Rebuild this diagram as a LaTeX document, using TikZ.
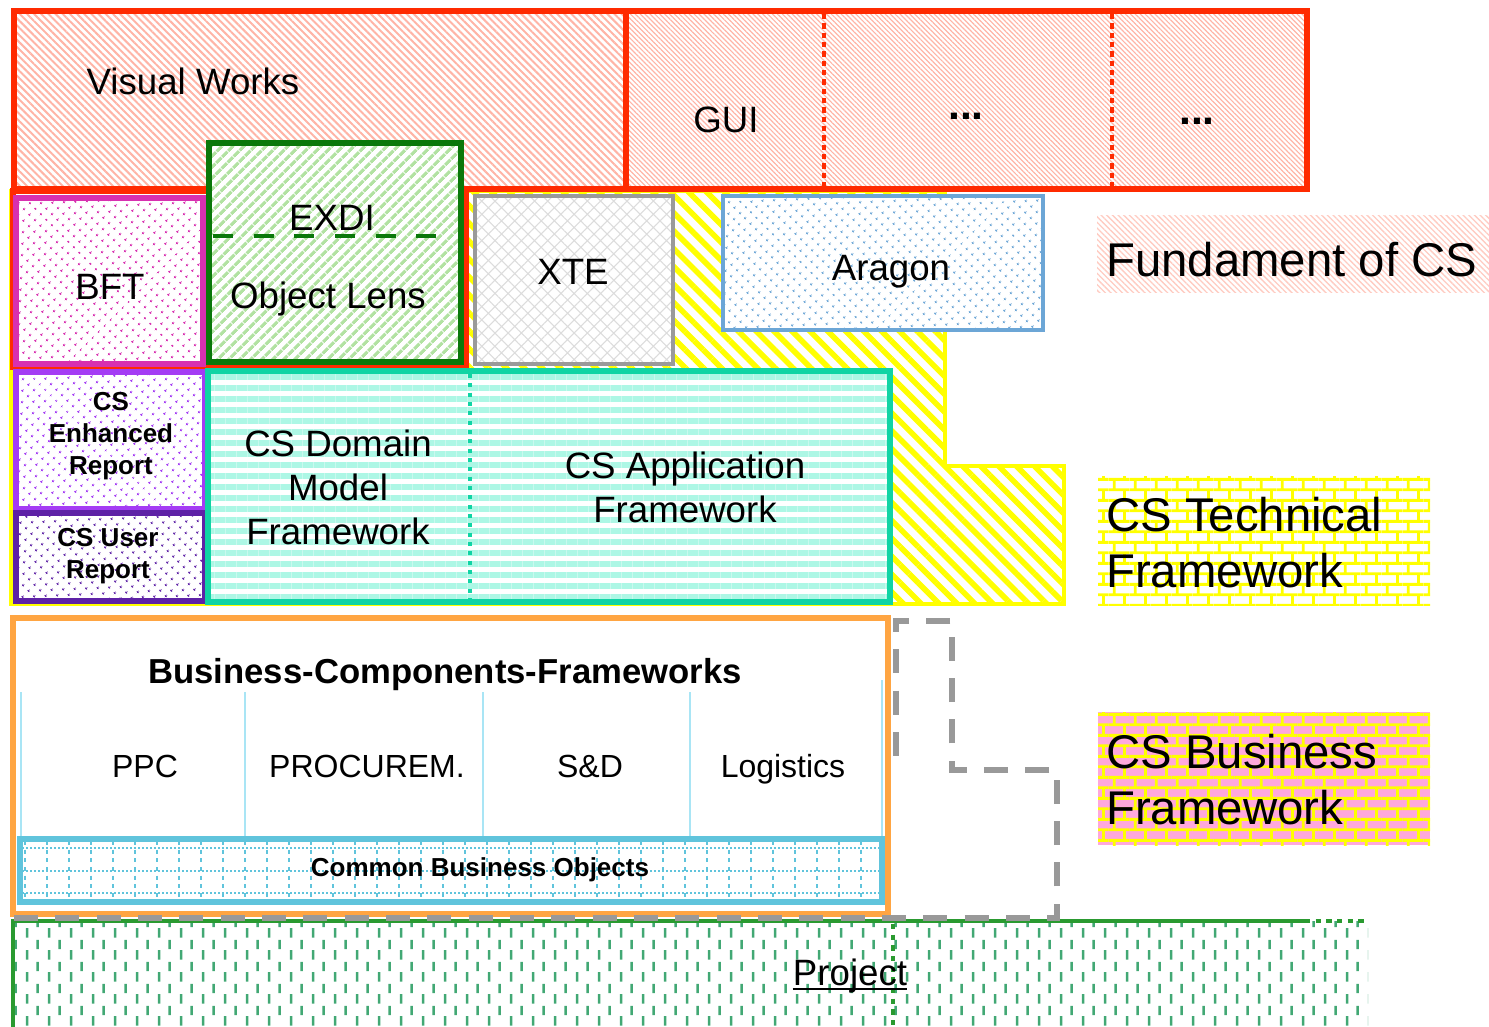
\documentclass[tikz,border=0pt]{standalone}
\usepackage{fontspec}
\setmainfont{Liberation Sans}
\usetikzlibrary{patterns,patterns.meta}

\definecolor{vwred}{HTML}{FF2A00}
\definecolor{vwhatch}{HTML}{FFB4A6}
\definecolor{bftpink}{HTML}{D830B0}
\definecolor{exdigreen}{HTML}{0A780A}
\definecolor{lensgreen}{HTML}{B2E2A2}
\definecolor{xtegray}{HTML}{9A9A9A}
\definecolor{xtehatch}{HTML}{DCDCDC}
\definecolor{aragonblue}{HTML}{6CA6D6}
\definecolor{techyellow}{HTML}{FFFF00}
\definecolor{enhpurple}{HTML}{A43CF4}
\definecolor{userpurple}{HTML}{5E22A6}
\definecolor{domteal}{HTML}{10D4A4}
\definecolor{domstripe}{HTML}{ADF7E5}
\definecolor{bcforange}{HTML}{FFA542}
\definecolor{bcfblue}{HTML}{A9E5F5}
\definecolor{cboblue}{HTML}{60C4DC}
\definecolor{projgreen}{HTML}{2A9A30}
\definecolor{projdash}{HTML}{42A874}
\definecolor{bizpink}{HTML}{FFA8DC}
\definecolor{guidegray}{HTML}{999999}

% brick wall tile for the legend
\pgfdeclarepatternformonly{legendbricks}{\pgfqpoint{0pt}{0pt}}{\pgfqpoint{16pt}{16pt}}{\pgfqpoint{16pt}{16pt}}{%
  \pgfsetlinewidth{2.2pt}
  \pgfpathmoveto{\pgfqpoint{0pt}{4pt}}\pgfpathlineto{\pgfqpoint{16pt}{4pt}}
  \pgfpathmoveto{\pgfqpoint{0pt}{12pt}}\pgfpathlineto{\pgfqpoint{16pt}{12pt}}
  \pgfpathmoveto{\pgfqpoint{4pt}{4pt}}\pgfpathlineto{\pgfqpoint{4pt}{12pt}}
  \pgfpathmoveto{\pgfqpoint{12pt}{12pt}}\pgfpathlineto{\pgfqpoint{12pt}{16pt}}
  \pgfpathmoveto{\pgfqpoint{12pt}{0pt}}\pgfpathlineto{\pgfqpoint{12pt}{4pt}}
  \pgfusepath{stroke}}

% short vertical dashes for the project layer
\pgfdeclarepatternformonly{projectdashes}{\pgfqpoint{0pt}{0pt}}{\pgfqpoint{16.5pt}{16.5pt}}{\pgfqpoint{16.5pt}{16.5pt}}{%
  \pgfsetlinewidth{1.9pt}
  \pgfpathmoveto{\pgfqpoint{4pt}{1pt}}\pgfpathlineto{\pgfqpoint{4pt}{8.5pt}}
  \pgfpathmoveto{\pgfqpoint{12.25pt}{9.25pt}}\pgfpathlineto{\pgfqpoint{12.25pt}{16.5pt}}
  \pgfusepath{stroke}}

\begin{document}
\begin{tikzpicture}[
    x=0.75pt, y=-0.75pt,
    frame/.style={line width=4pt},
    lbl/.style={font=\fontsize{27.5pt}{33pt}\selectfont, align=center, inner sep=0pt},
    small/.style={font=\bfseries\fontsize{19.5pt}{24pt}\selectfont, align=center, inner sep=0pt},
    part/.style={font=\fontsize{24pt}{28pt}\selectfont, inner sep=0pt, anchor=base},
    legend/.style={font=\fontsize{35.5pt}{42pt}\selectfont, align=left, anchor=west, inner sep=0pt},
    dotfill/.style={preaction={fill=white}, pattern={Dots[distance=6.5pt,radius=1.1pt,angle=45]}, pattern color=#1}
]
\useasboundingbox (0,0) rectangle (1489,1026);

% Technical framework (yellow L-shape behind)
\draw[line width=3.5pt, draw=techyellow, pattern={Lines[angle=-45,distance=9.5pt,line width=4.2pt]}, pattern color=techyellow]
  (11,191) -- (945,191) -- (945,466) -- (1064,466) -- (1064,604) -- (11,604) -- cycle;

% Visual Works and GUI
\draw[frame, draw=vwred, pattern={Lines[angle=-45,distance=3.8pt,line width=1.5pt]}, pattern color=vwhatch] (14,11) rectangle (626,189);
\node[lbl, anchor=base] (visual) at (193,94) {Visual Works};
\draw[frame, draw=vwred, pattern={Lines[angle=-45,distance=2.6pt,line width=0.9pt]}, pattern color=vwhatch] (626,11) rectangle (1307,189);
\draw[vwred, line width=3pt, dash pattern=on 4pt off 3pt] (824,14) -- (824,186);
\draw[vwred, line width=3pt, dash pattern=on 4pt off 3pt] (1112,14) -- (1112,186);
\node[lbl, anchor=base] (gui) at (726,132) {GUI};
\node[lbl, anchor=base] (more1) at (966,119) {\fontsize{32pt}{36pt}\selectfont\textbf{...}};
\node[lbl, anchor=base] (more2) at (1197,124) {\fontsize{32pt}{36pt}\selectfont\textbf{...}};

% frame under Visual Works
\draw[frame, draw=vwred, fill=white] (13,191) rectangle (466,367);

% BFT
\draw[frame, draw=bftpink, dotfill=bftpink] (16,198) rectangle (203,364);
\node[lbl, anchor=base] (bft) at (110,299) {BFT};

% Object Lens with EXDI
\draw[frame, draw=exdigreen, preaction={fill=white}, pattern={Lines[angle=45,distance=6.5pt,line width=2.8pt]}, pattern color=lensgreen] (209,143) rectangle (461,362);
\draw[exdigreen, line width=3.2pt, dash pattern=on 15pt off 15.5pt] (213,236) -- (444,236);
\node[lbl, anchor=base] (exdi) at (332,230) {EXDI};
\node[lbl, anchor=base] (lens) at (328,308) {Object Lens};

% XTE
\draw[line width=3.5pt, draw=xtegray, preaction={fill=white}, pattern={Hatch[angle=45,distance=7pt,line width=0.8pt]}, pattern color=xtehatch] (475,196) rectangle (673,364);
\node[lbl, anchor=base] (xte) at (573,284) {XTE};

% Aragon
\draw[line width=3.5pt, draw=aragonblue, dotfill=aragonblue] (723,196) rectangle (1043,330);
\node[lbl, anchor=base] (aragon) at (891,280) {Aragon};

% Report boxes
\draw[frame, draw=enhpurple, dotfill=enhpurple] (16,372) rectangle (205,509);
\node[small] (enhanced) at (111,436) {CS\\Enhanced\\Report};
\draw[frame, draw=userpurple, dotfill=userpurple] (16,513) rectangle (205,601);
\node[small] (user) at (108,556) {CS User\\Report};

% Domain model and application framework
\draw[frame, draw=domteal, preaction={fill=white}, pattern={Lines[angle=0,distance=8.25pt,line width=4.4pt]}, pattern color=domstripe] (208,371) rectangle (890,602);
\draw[domteal, line width=3pt, dash pattern=on 3pt off 4pt] (470,374) -- (470,599);
\node[lbl] (domain) at (338,487) {CS Domain\\Model\\Framework};
\node[lbl] (appfw) at (685,487) {CS Application\\Framework};

% Business components frameworks
\draw[frame, draw=bcforange, fill=white] (13,618) rectangle (888,914);
\node[font=\bfseries\fontsize{26pt}{30pt}\selectfont, anchor=base, inner sep=0pt] (bcf) at (445,683) {Business-Components-Frameworks};
\foreach \x in {21,245,483,690}
  \draw[bcfblue, line width=2.2pt] (\x,692) -- (\x,838);
\draw[bcfblue, line width=2.2pt] (882,680) -- (882,838);
\node[part] (ppc) at (145,777) {PPC};
\node[part] (procurem) at (367,777) {PROCUREM.};
\node[part] (sd) at (590,777) {S\&D};
\node[part] (logistics) at (783,777) {Logistics};

% Common business objects
\fill[white] (20,839) rectangle (882,902);
\begin{scope}
  \clip (22,841) rectangle (880,900);
  \foreach \y in {848,871,893}
    \draw[cboblue, line width=1.3pt, dash pattern=on 1.5pt off 1.5pt] (22,\y) -- (880,\y);
  \foreach \x in {25,47,...,880}
    \draw[cboblue, line width=1.3pt, dash pattern=on 3pt off 3.5pt] (\x,841) -- (\x,900);
\end{scope}
\draw[frame, draw=cboblue] (20,839) rectangle (882,902);
\node[small, anchor=base] (cbo) at (480,876) {Common Business Objects};

% Project
\fill[pattern=projectdashes, pattern color=projdash] (13,921) rectangle (1368,1030);
\draw[projgreen, line width=3.5pt] (13,1030) -- (13,921) -- (1305,921);
\draw[projgreen, line width=3.5pt, dash pattern=on 4pt off 4pt] (1305,921) -- (1365,921);
\draw[projgreen, line width=3.5pt, dash pattern=on 4pt off 4pt] (893,924) -- (893,1030);
\node[lbl, anchor=base] (project) at (850,985) {Project};
\draw[line width=1.8pt] ([yshift=-3pt]project.base west) -- ([yshift=-3pt]project.base east);

% Gray dashed outline
\draw[guidegray, line width=4pt, dash pattern=on 18pt off 13pt] (14,918) -- (1057,918) -- (1057,770) -- (952,770) -- (952,621) -- (896,621) -- (896,760);

% Legend
\fill[pattern={Lines[angle=-45,distance=3pt,line width=1pt]}, pattern color=vwhatch!70] (1097,215) rectangle (1489,292);
\node[legend, anchor=base west] (fundament) at (1106,276) {Fundament of CS};
\fill[pattern=legendbricks, pattern color=techyellow] (1098,476) rectangle (1430,605);
\node[legend] (techlegend) at (1106,543) {CS Technical\\Framework};
\fill[bizpink] (1098,712) rectangle (1430,845);
\fill[pattern=legendbricks, pattern color=techyellow] (1098,712) rectangle (1430,845);
\node[legend] (bizlegend) at (1106,780) {CS Business\\Framework};

\end{tikzpicture}
\end{document}
